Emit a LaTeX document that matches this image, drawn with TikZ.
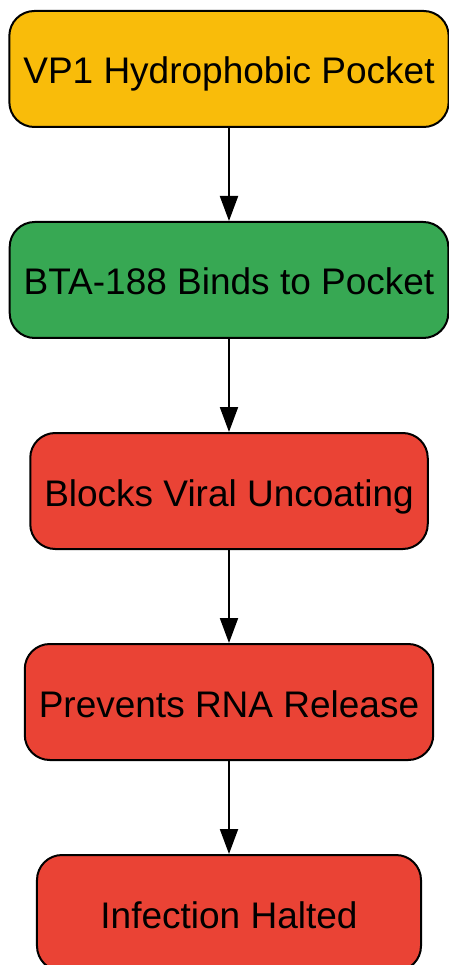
\documentclass[tikz,border=0pt]{standalone}
\usepackage{fontspec}
\setmainfont{Liberation Sans}
\usepackage{tikz}
\usetikzlibrary{arrows.meta,positioning}

\definecolor{pocketyellow}{HTML}{F9BC0A}
\definecolor{bindgreen}{HTML}{37A853}
\definecolor{blockred}{HTML}{EA4335}

\begin{document}
\begin{tikzpicture}[->, >={Triangle[length=25pt,width=18pt]}, line width=2pt, x=1pt, y=1pt, node distance=211pt]
\tikzstyle{step box}=[draw=black,line width=2pt,rounded corners=25pt,minimum height=116pt,minimum width=384pt,inner xsep=14pt,text height=30pt,text depth=0pt,text=black,font=\fontsize{37}{40}\selectfont]
\useasboundingbox (-229,69) rectangle (219,-896);
\node[step box,fill=pocketyellow] (P)                 {VP1 Hydrophobic Pocket};
\node[step box,fill=bindgreen]    (B)[below of=P]     {BTA-188 Binds to Pocket};
\node[step box,fill=blockred]     (U)[below of=B]     {Blocks Viral Uncoating};
\node[step box,fill=blockred]     (R)[below of=U]     {Prevents RNA Release};
\node[step box,fill=blockred]     (H)[below of=R]     {Infection Halted};
\draw (P) -- (B);
\draw (B) -- (U);
\draw (U) -- (R);
\draw (R) -- (H);
\end{tikzpicture}
\end{document}
